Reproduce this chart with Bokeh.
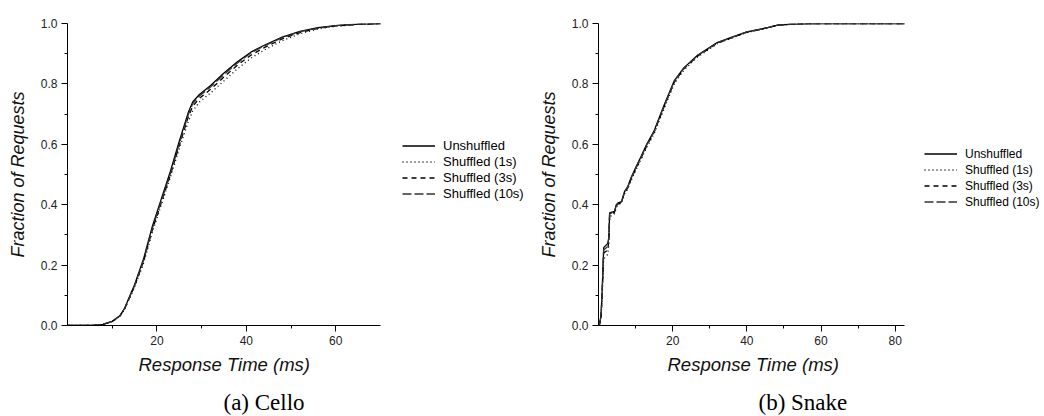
from bokeh.plotting import figure
from bokeh.layouts import row
from bokeh.models import (Range1d, FixedTicker, PrintfTickFormatter, Legend,
                          LegendItem, Title)
from bokeh.embed import file_html
from bokeh.resources import INLINE

# ---------------- data ----------------
series_names = ["Unshuffled", "Shuffled (1s)", "Shuffled (3s)", "Shuffled (10s)"]

cello_x = [0, 5, 7, 8, 10, 11.7, 12.8, 14, 15, 17, 19, 21, 23, 25, 27, 28, 29.5,
           32, 35, 38, 41, 44, 48, 52, 56, 60, 65, 70]
cello_unshuffled = [0, 0, 0.002, 0.004, 0.014, 0.032, 0.058, 0.1, 0.135, 0.22, 0.33,
                    0.42, 0.51, 0.61, 0.705, 0.74, 0.765, 0.795, 0.836, 0.873, 0.905,
                    0.928, 0.955, 0.974, 0.986, 0.993, 0.998, 1.0]
cello_shuf_1s = [0, 0, 0.002, 0.004, 0.013, 0.03, 0.054, 0.093, 0.127, 0.205, 0.31,
                 0.40, 0.49, 0.585, 0.675, 0.71, 0.74, 0.77, 0.81, 0.85, 0.885,
                 0.912, 0.943, 0.966, 0.982, 0.991, 0.997, 1.0]
cello_shuf_3s = [0, 0, 0.002, 0.004, 0.013, 0.031, 0.056, 0.096, 0.13, 0.212, 0.318,
                 0.408, 0.498, 0.596, 0.69, 0.726, 0.752, 0.782, 0.823, 0.862, 0.895,
                 0.92, 0.949, 0.97, 0.984, 0.992, 0.997, 1.0]
cello_shuf_10s = [0, 0, 0.002, 0.004, 0.014, 0.031, 0.057, 0.098, 0.132, 0.215, 0.323,
                  0.413, 0.503, 0.602, 0.698, 0.734, 0.76, 0.79, 0.831, 0.869, 0.902,
                  0.926, 0.953, 0.973, 0.985, 0.993, 0.998, 1.0]

snake_x = [0, 0.3, 0.7, 1.0, 1.4, 2.5, 2.8, 3.0, 4.3, 4.8, 5.2, 6.2, 7.0, 7.9, 8.8,
           10.1, 11.5, 13, 15, 17.7, 20.4, 23, 26.7, 32, 36, 40, 45.6, 48.3, 54, 60,
           70, 82.5]
snake_unshuffled = [0, 0.005, 0.035, 0.12, 0.258, 0.272, 0.29, 0.373, 0.378, 0.40,
                    0.405, 0.41, 0.443, 0.46, 0.49, 0.525, 0.56, 0.60, 0.645, 0.73,
                    0.81, 0.853, 0.895, 0.937, 0.955, 0.972, 0.986, 0.995, 0.999,
                    1.0, 1.0, 1.0]
snake_shuf_1s = [0, 0.004, 0.03, 0.10, 0.22, 0.236, 0.27, 0.36, 0.37, 0.39, 0.40,
                 0.405, 0.435, 0.452, 0.48, 0.515, 0.55, 0.59, 0.635, 0.718, 0.80,
                 0.845, 0.889, 0.933, 0.952, 0.97, 0.985, 0.994, 0.999, 1.0, 1.0, 1.0]
snake_shuf_3s = [0, 0.004, 0.03, 0.11, 0.24, 0.25, 0.285, 0.365, 0.375, 0.395, 0.402,
                 0.408, 0.44, 0.456, 0.485, 0.52, 0.555, 0.595, 0.64, 0.725, 0.805,
                 0.85, 0.892, 0.935, 0.953, 0.971, 0.986, 0.995, 0.999, 1.0, 1.0, 1.0]
snake_shuf_10s = [0, 0.005, 0.033, 0.115, 0.25, 0.262, 0.295, 0.37, 0.376, 0.398,
                  0.404, 0.409, 0.441, 0.458, 0.488, 0.522, 0.558, 0.598, 0.643,
                  0.728, 0.808, 0.852, 0.894, 0.936, 0.954, 0.972, 0.986, 0.995,
                  0.999, 1.0, 1.0, 1.0]

y_ticks = [0, 0.2, 0.4, 0.6, 0.8, 1.0]
y_minor = [0.1, 0.3, 0.5, 0.7, 0.9]
cello_xmax = 70
snake_xmax = 82.5
cello_xticks = [20, 40, 60]
cello_xminor = [10, 30, 50]
snake_xticks = [20, 40, 60, 80]
snake_xminor = [10, 30, 50, 70]

x_label = "Response Time (ms)"
y_label = "Fraction of Requests"

styles = [
    dict(line_color="black", line_dash="solid", line_width=1.3),
    dict(line_color="black", line_dash="1 3", line_width=1.3),
    dict(line_color="black", line_dash="5 4", line_width=1.3),
    dict(line_color="#333333", line_dash="9 3", line_width=1.3),
]

SANS = "Liberation Sans"
SERIF = "Liberation Serif"


def make_plot(width, border_left, border_right, border_top, border_bottom,
              axis_px, x_max, xticks, xminor, x, ys, legend_loc, legend_font,
              xlabel_offset, caption, caption_offset):
    # frame extends to the right to hold the legend; the x axis is bounded
    frame_w = width - border_left - border_right
    x_end = x_max * frame_w / axis_px
    p = figure(width=width, height=416, output_backend="svg", toolbar_location=None,
               x_range=Range1d(0, x_end), y_range=Range1d(0, 1.0),
               min_border_left=border_left, min_border_right=border_right,
               min_border_top=border_top, min_border_bottom=border_bottom)
    p.outline_line_color = None
    p.xgrid.visible = False
    p.ygrid.visible = False
    p.background_fill_color = "white"
    p.border_fill_color = "white"

    items = []
    for name, yv, st in zip(series_names, ys, styles):
        r = p.line(x, yv, **st)
        items.append(LegendItem(label=name, renderers=[r]))

    # axes
    p.xaxis.ticker = FixedTicker(ticks=xticks, minor_ticks=xminor)
    p.xaxis.bounds = (0, x_max)
    p.yaxis.ticker = FixedTicker(ticks=y_ticks, minor_ticks=y_minor)
    p.yaxis.formatter = PrintfTickFormatter(format="%.1f")
    for ax in (p.xaxis[0], p.yaxis[0]):
        ax.axis_line_color = "black"
        ax.axis_line_width = 1
        ax.major_tick_line_color = "black"
        ax.minor_tick_line_color = "black"
        ax.major_tick_in = 0
        ax.minor_tick_in = 0
        ax.major_tick_out = 6
        ax.minor_tick_out = 3
        ax.major_label_text_font = SANS
        ax.major_label_text_font_size = "12px"
        ax.major_label_text_color = "#222222"
        ax.axis_label_text_font = SANS
        ax.axis_label_text_font_size = "18px"
        ax.axis_label_text_font_style = "italic"
        ax.axis_label_text_color = "#111111"
    p.yaxis.axis_label = y_label
    p.yaxis.major_label_standoff = 4
    p.xaxis.major_label_standoff = 4
    p.yaxis.axis_label_standoff = 10

    # x axis title, placed under the bounded axis (not the whole frame)
    xt = Title(text=x_label, align="left", offset=xlabel_offset, standoff=8,
               text_font=SANS, text_font_size="18.5px", text_font_style="italic",
               text_color="#111111")
    p.add_layout(xt, "below")

    legend = Legend(items=items, location=legend_loc, padding=0, margin=0,
                    spacing=1, glyph_width=33, glyph_height=15, label_height=15,
                    label_standoff=8, label_text_font=SANS,
                    label_text_font_size=legend_font, label_text_color="black",
                    border_line_alpha=0, background_fill_alpha=0)
    p.add_layout(legend, "center")

    cap = Title(text=caption, align="left", offset=caption_offset, standoff=0,
                padding=(0, 0, 9, 0),
                text_font=SERIF, text_font_size="23px", text_font_style="normal",
                text_color="black")
    p.add_layout(cap, "below")
    return p


p1 = make_plot(530, 67, 3, 12, 91, 313, cello_xmax, cello_xticks, cello_xminor,
               cello_x,
               [cello_unshuffled, cello_shuf_1s, cello_shuf_3s, cello_shuf_10s],
               (335, 124), "13px", 71, "(a) Cello", 156)
p2 = make_plot(514, 68, 1, 23, 87, 306, snake_xmax, snake_xticks, snake_xminor,
               snake_x,
               [snake_unshuffled, snake_shuf_1s, snake_shuf_3s, snake_shuf_10s],
               (326, 116), "12px", 69, "(b) Snake", 160)

layout = row(p1, p2)
open("out.html", "w").write(file_html(layout, INLINE))
